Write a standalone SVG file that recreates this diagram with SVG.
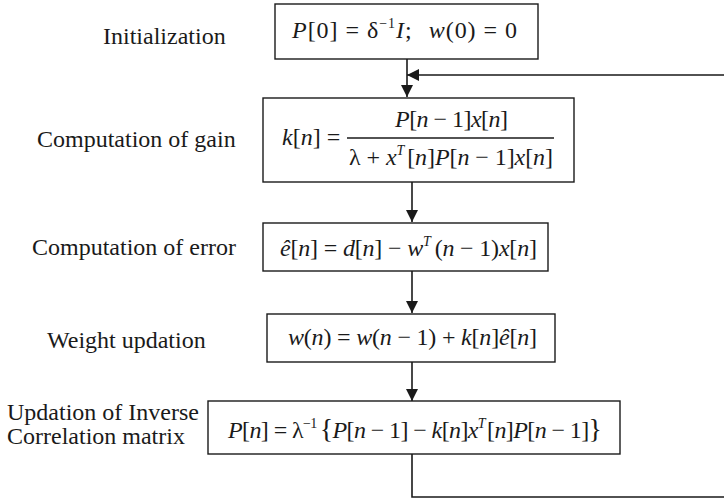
<svg xmlns="http://www.w3.org/2000/svg" width="724" height="499" viewBox="0 0 724 499">
<style>
  .lbl { font-family: "Liberation Serif", "Times New Roman", serif; font-size: 24px; fill: #1a1a1a; }
  .m { font-family: "Liberation Serif", "Times New Roman", serif; font-size: 24px; fill: #1a1a1a; }
  .i { font-style: italic; }
  .sup { font-size: 14px; }
  .box { fill: #ffffff; stroke: #1a1a1a; stroke-width: 1.4; }
  .wire { fill: none; stroke: #1a1a1a; stroke-width: 1.6; }
</style>
<defs>
  <marker id="arr" markerUnits="userSpaceOnUse" markerWidth="12" markerHeight="12" refX="12" refY="6" orient="auto">
    <path d="M0,0 L12,6 L0,12 Z" fill="#1a1a1a"/>
  </marker>
</defs>
<rect width="724" height="499" fill="#ffffff"/>

<g id="labels">
  <text class="lbl" x="103" y="44">Initialization</text>
  <text class="lbl" x="37" y="147">Computation of gain</text>
  <text class="lbl" x="32" y="255">Computation of error</text>
  <text class="lbl" x="47" y="348">Weight updation</text>
  <text class="lbl" x="7" y="420">Updation of Inverse</text>
  <text class="lbl" x="7" y="444">Correlation matrix</text>
</g>

<g id="connectors">
  <path class="wire" d="M407,59 V97" marker-end="url(#arr)"/>
  <path class="wire" d="M412,182 V222" marker-end="url(#arr)"/>
  <path class="wire" d="M412,271 V313" marker-end="url(#arr)"/>
  <path class="wire" d="M412,362 V401" marker-end="url(#arr)"/>
  <path class="wire" d="M412,454 V497 H740 V75 H407" marker-end="url(#arr)"/>
</g>

<g id="init">
  <rect class="box" x="275" y="4" width="263" height="55"/>
  <text class="m" x="292" y="38" textLength="225" lengthAdjust="spacing"><tspan class="i">P</tspan>[0] = δ<tspan class="sup" dy="-10">−1</tspan><tspan class="i" dy="10">I</tspan>;<tspan class="i" dx="16">w</tspan>(0) = 0</text>
</g>

<g id="gain">
  <rect class="box" x="263" y="98" width="311" height="84"/>
  <text class="m" x="282" y="145"><tspan class="i">k</tspan>[<tspan class="i">n</tspan>] =</text>
  <text class="m" x="395" y="127" textLength="113" lengthAdjust="spacing"><tspan class="i">P</tspan>[<tspan class="i">n</tspan> − 1]<tspan class="i">x</tspan>[<tspan class="i">n</tspan>]</text>
  <line x1="347" y1="138" x2="554" y2="138" stroke="#1a1a1a" stroke-width="1.3"/>
  <text class="m" x="349" y="165" textLength="204" lengthAdjust="spacing">λ + <tspan class="i">x</tspan><tspan class="sup i" dy="-10">T</tspan><tspan dy="10" dx="3">[</tspan><tspan class="i">n</tspan>]<tspan class="i">P</tspan>[<tspan class="i">n</tspan> − 1]<tspan class="i">x</tspan>[<tspan class="i">n</tspan>]</text>
</g>

<g id="error">
  <rect class="box" x="263" y="223" width="285" height="48"/>
  <text class="m" x="280" y="256" textLength="257" lengthAdjust="spacing"><tspan class="i">ê</tspan>[<tspan class="i">n</tspan>] = <tspan class="i">d</tspan>[<tspan class="i">n</tspan>] − <tspan class="i">w</tspan><tspan class="sup i" dy="-10">T</tspan><tspan dy="10" dx="4">(</tspan><tspan class="i">n</tspan> − 1)<tspan class="i">x</tspan>[<tspan class="i">n</tspan>]</text>
</g>

<g id="weight">
  <rect class="box" x="267" y="314" width="288" height="48"/>
  <text class="m" x="288" y="345" textLength="249" lengthAdjust="spacing"><tspan class="i">w</tspan>(<tspan class="i">n</tspan>) = <tspan class="i">w</tspan>(<tspan class="i">n</tspan> − 1) + <tspan class="i">k</tspan>[<tspan class="i">n</tspan>]<tspan class="i">ê</tspan>[<tspan class="i">n</tspan>]</text>
</g>

<g id="inverse">
  <rect class="box" x="208" y="401" width="412" height="53"/>
  <text class="m" x="228" y="438" textLength="374" lengthAdjust="spacing"><tspan class="i">P</tspan>[<tspan class="i">n</tspan>] = λ<tspan class="sup" dy="-10">−1</tspan><tspan dy="10" dx="3" font-size="28">{</tspan><tspan class="i">P</tspan>[<tspan class="i">n</tspan> − 1] − <tspan class="i">k</tspan>[<tspan class="i">n</tspan>]<tspan class="i">x</tspan><tspan class="sup i" dy="-10">T</tspan><tspan dy="10" dx="2">[</tspan><tspan class="i">n</tspan>]<tspan class="i">P</tspan>[<tspan class="i">n</tspan> − 1]<tspan font-size="28">}</tspan></text>
</g>
</svg>
